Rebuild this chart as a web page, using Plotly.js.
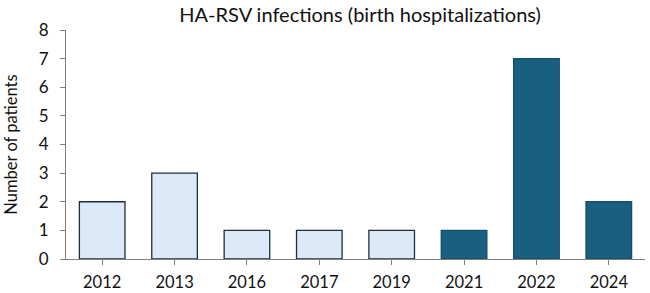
<!DOCTYPE html>
<html><head><meta charset="utf-8">
<script src="https://cdn.plot.ly/plotly-3.0.1.min.js"></script>
<style>html,body{margin:0;padding:0;background:#fff}#chart{width:650px;height:293px}</style>
</head><body><div id="chart"></div>
<script>
const years = ["2012","2013","2016","2017","2019","2021","2022","2024"];
const patients = [2,3,1,1,1,1,7,2];
const isRecent = [false,false,false,false,false,true,true,true];
const yTicks = [0,1,2,3,4,5,6,7,8];

const lightFill = "#dce9f8", darkFill = "#185f80";
const colors = isRecent.map(r => r ? darkFill : lightFill);
const lineColors = isRecent.map(r => r ? "#164f6b" : "#1d2f3b");

const trace = {
  type: "bar", x: years, y: patients,
  marker: {color: colors, line: {color: lineColors, width: 1.3}},
  width: 0.63, hoverinfo: "x+y"
};
const font = {family: "Lato, 'Open Sans', sans-serif", color: "#111"};
const layout = {
  width: 650, height: 293,
  margin: {l: 66, r: 5, t: 30, b: 34},
  paper_bgcolor: "#fff", plot_bgcolor: "#fff",
  showlegend: false,
  font: Object.assign({size: 16}, font),
  title: {text: "HA-RSV infections (birth hospitalizations)", x: 0.554, xanchor: "center", y: 0.95, yanchor: "middle",
          font: Object.assign({size: 20}, font)},
  xaxis: {type: "category", showline: true, linecolor: "#7f7f7f", linewidth: 1,
          ticks: "outside", ticklen: 5, tickcolor: "#7f7f7f", showgrid: false, zeroline: false,
          ticklabelstandoff: 3,
          tickfont: Object.assign({size: 16.5}, font)},
  yaxis: {range: [0, 8], tickvals: yTicks, showline: true, linecolor: "#7f7f7f", linewidth: 1,
          ticks: "outside", ticklen: 5, tickcolor: "#7f7f7f", showgrid: false, zeroline: false,
          ticklabelstandoff: 8,
          tickfont: Object.assign({size: 17}, font),
          title: {text: "Number of patients", standoff: 16, font: Object.assign({size: 16.5}, font)}}
};
Plotly.newPlot("chart", [trace], layout, {displayModeBar: false, staticPlot: true});
</script></body></html>
